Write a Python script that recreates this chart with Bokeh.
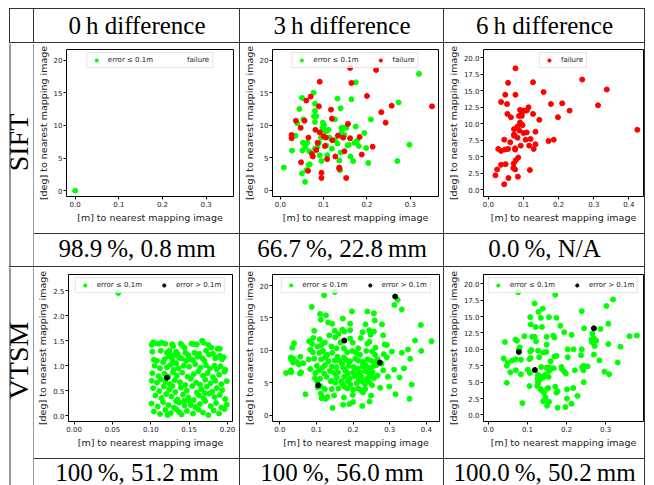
import math
from bokeh.plotting import figure
from bokeh.layouts import row, column
from bokeh.models import Div, Spacer, Range1d, FixedTicker, PrintfTickFormatter, Span
from bokeh.embed import file_html
from bokeh.resources import INLINE
from bokeh.core.properties import value

# ---------------- table texts ----------------
col_titles = ["0\u2009h difference", "3\u2009h difference", "6\u2009h difference"]
row_labels = ["SIFT", "VTSM"]
sift_results = ["98.9\u2009%, 0.8\u2009mm", "66.7\u2009%, 22.8\u2009mm", "0.0\u2009%, N/A"]
vtsm_results = ["100\u2009%, 51.2\u2009mm", "100\u2009%, 56.0\u2009mm", "100.0\u2009%, 50.2\u2009mm"]
legend_ok = "error \u2264 0.1m"
legend_bad = "error > 0.1m"
legend_fail = "failure"
x_label = "[m] to nearest mapping image"
y_label = "[deg] to nearest mapping image"

# ---------------- tick values ----------------
x_ticks_03 = [0.0, 0.1, 0.2, 0.3]
x_ticks_04 = [0.0, 0.1, 0.2, 0.3, 0.4]
x_ticks_020 = [0.0, 0.05, 0.10, 0.15, 0.20]
y_ticks_20 = [0, 5, 10, 15, 20]
y_ticks_20h = [0.0, 2.5, 5.0, 7.5, 10.0, 12.5, 15.0, 17.5, 20.0]
y_ticks_25 = [0.0, 0.5, 1.0, 1.5, 2.0, 2.5]

# ---------------- data (x [m], y [deg]) ----------------
sift_0h_ok = [(0.0, 0.0)]
sift_0h_fail = []

sift_3h_ok = [
    (0.008, 3.5), (0.027, 6.1), (0.035, 8.4), (0.039, 10.3), (0.044, 12.5), (0.050, 14.2),
    (0.053, 10.9), (0.051, 6.1), (0.052, 7.3), (0.050, 2.6), (0.057, 7.1), (0.058, 6.7),
    (0.060, 3.1), (0.062, 7.3), (0.065, 3.9), (0.068, 4.0), (0.057, 1.3), (0.067, 6.0),
    (0.077, 15.0), (0.080, 13.3), (0.080, 12.2), (0.078, 11.4), (0.083, 11.4), (0.080, 10.5),
    (0.080, 6.4), (0.086, 6.7), (0.089, 7.3), (0.091, 5.4), (0.095, 4.5), (0.094, 8.1),
    (0.098, 10.4), (0.101, 10.0), (0.097, 9.6), (0.102, 9.2), (0.106, 9.1), (0.111, 9.3),
    (0.113, 8.1), (0.106, 6.9), (0.108, 5.4), (0.119, 6.4), (0.126, 10.9), (0.132, 14.1),
    (0.139, 12.6), (0.126, 7.7), (0.136, 8.5), (0.141, 9.6), (0.146, 9.6), (0.152, 9.6),
    (0.132, 7.2), (0.139, 5.8), (0.136, 4.6), (0.138, 3.1), (0.142, 9.0), (0.148, 8.5),
    (0.155, 6.9), (0.158, 7.0), (0.164, 14.0), (0.174, 16.6), (0.174, 9.8), (0.162, 5.2),
    (0.168, 4.5), (0.171, 7.3), (0.177, 7.6), (0.181, 6.8), (0.194, 8.8), (0.198, 6.5),
    (0.203, 4.2), (0.209, 10.9), (0.273, 13.5), (0.270, 4.5), (0.298, 7.0), (0.320, 17.9),
]
sift_3h_fail = [
    (0.161, 18.8), (0.221, 18.5), (0.091, 16.7), (0.164, 16.5), (0.200, 14.5), (0.060, 13.8),
    (0.070, 14.4), (0.089, 12.9), (0.117, 12.4), (0.257, 13.0), (0.350, 12.9), (0.233, 12.0),
    (0.036, 10.7), (0.047, 9.6), (0.056, 10.7), (0.119, 11.0), (0.156, 10.2), (0.243, 10.4),
    (0.026, 8.5), (0.026, 8.0), (0.081, 9.3), (0.091, 8.9), (0.105, 8.1), (0.100, 8.3),
    (0.086, 7.3), (0.065, 8.1), (0.133, 8.4), (0.161, 8.0), (0.183, 8.2), (0.145, 8.1),
    (0.103, 6.8), (0.120, 7.7), (0.213, 6.7), (0.148, 6.0), (0.083, 6.2), (0.073, 5.6),
    (0.075, 5.2), (0.108, 4.8), (0.127, 5.2), (0.188, 5.5), (0.048, 4.3), (0.064, 3.0),
    (0.136, 3.5), (0.136, 3.3), (0.095, 2.7), (0.095, 1.9), (0.152, 1.9),
]

sift_6h_fail = [
    (0.077, 18.4), (0.056, 16.2), (0.127, 16.3), (0.267, 16.7), (0.337, 15.2), (0.157, 14.8),
    (0.048, 14.4), (0.077, 14.4), (0.036, 13.3), (0.053, 13.0), (0.178, 13.0), (0.210, 13.1),
    (0.312, 12.8), (0.231, 12.0), (0.114, 12.5), (0.109, 12.0), (0.100, 12.0), (0.090, 12.1),
    (0.095, 11.6), (0.054, 11.5), (0.127, 11.5), (0.064, 11.0), (0.087, 11.2), (0.095, 11.2),
    (0.198, 11.0), (0.145, 10.6), (0.090, 10.2), (0.094, 9.9), (0.083, 9.6), (0.097, 9.8),
    (0.073, 9.2), (0.073, 8.4), (0.073, 8.2), (0.088, 9.0), (0.100, 8.6), (0.109, 8.7),
    (0.134, 8.8), (0.106, 7.6), (0.083, 7.9), (0.045, 7.6), (0.120, 7.7), (0.171, 7.4),
    (0.186, 7.6), (0.424, 9.1), (0.062, 7.2), (0.092, 6.7), (0.116, 6.7), (0.134, 6.9),
    (0.129, 6.2), (0.028, 6.2), (0.036, 5.9), (0.047, 6.1), (0.056, 6.2), (0.076, 6.3),
    (0.076, 6.1), (0.085, 4.9), (0.078, 4.5), (0.072, 4.0), (0.049, 3.9), (0.036, 3.8),
    (0.071, 3.3), (0.076, 3.1), (0.118, 3.0), (0.025, 3.1), (0.020, 2.2), (0.057, 1.8),
    (0.084, 2.0), (0.045, 0.85),
]

vtsm_0h_ok = [
    (0.0575, 2.46),
    (0.101, 1.42), (0.103, 1.47), (0.106, 1.45), (0.110, 1.44), (0.114, 1.46), (0.119, 1.44),
    (0.128, 1.43), (0.129, 1.39), (0.139, 1.44), (0.141, 1.40), (0.144, 1.36), (0.153, 1.44),
    (0.156, 1.43), (0.160, 1.43), (0.167, 1.50), (0.169, 1.46), (0.179, 1.36), (0.187, 1.34),
    (0.190, 1.34), (0.175, 1.42),
    (0.102, 1.28), (0.113, 1.30), (0.121, 1.26), (0.126, 1.22), (0.131, 1.21), (0.135, 1.24),
    (0.137, 1.16), (0.145, 1.26), (0.149, 1.21), (0.157, 1.26), (0.163, 1.24), (0.172, 1.30),
    (0.176, 1.22), (0.181, 1.24), (0.190, 1.20), (0.195, 1.17), (0.124, 1.30), (0.133, 1.28),
    (0.104, 1.12), (0.108, 1.10), (0.118, 1.13), (0.123, 1.19), (0.128, 1.12), (0.140, 1.15),
    (0.146, 1.10), (0.152, 1.13), (0.155, 1.11), (0.161, 1.18), (0.167, 1.15), (0.170, 1.10),
    (0.184, 1.15), (0.188, 1.18), (0.193, 1.13), (0.116, 1.07), (0.133, 1.05),
    (0.105, 1.00), (0.112, 0.95), (0.121, 0.97), (0.126, 1.02), (0.136, 0.95), (0.143, 1.00),
    (0.150, 0.98), (0.158, 1.03), (0.165, 0.96), (0.172, 1.01), (0.177, 0.94), (0.183, 1.00),
    (0.191, 0.99), (0.197, 0.92), (0.186, 0.93), (0.130, 0.92),
    (0.102, 0.85), (0.110, 0.79), (0.118, 0.84), (0.129, 0.87), (0.134, 0.80), (0.141, 0.86),
    (0.148, 0.78), (0.156, 0.83), (0.162, 0.89), (0.168, 0.80), (0.174, 0.85), (0.181, 0.77),
    (0.189, 0.82), (0.196, 0.88), (0.123, 0.78),
    (0.101, 0.70), (0.108, 0.66), (0.113, 0.73), (0.125, 0.63), (0.131, 0.71), (0.138, 0.67),
    (0.145, 0.61), (0.152, 0.74), (0.159, 0.66), (0.164, 0.62), (0.171, 0.72), (0.178, 0.65),
    (0.184, 0.70), (0.192, 0.63), (0.199, 0.69), (0.119, 0.68),
    (0.103, 0.55), (0.111, 0.49), (0.117, 0.58), (0.124, 0.52), (0.132, 0.47), (0.139, 0.56),
    (0.147, 0.50), (0.154, 0.59), (0.160, 0.46), (0.166, 0.53), (0.173, 0.58), (0.180, 0.48),
    (0.186, 0.55), (0.193, 0.51), (0.128, 0.59), (0.170, 0.45),
    (0.106, 0.40), (0.114, 0.35), (0.120, 0.43), (0.127, 0.38), (0.135, 0.32), (0.142, 0.42),
    (0.149, 0.36), (0.156, 0.31), (0.163, 0.40), (0.169, 0.34), (0.176, 0.44), (0.183, 0.37),
    (0.190, 0.41), (0.197, 0.33), (0.144, 0.30),
    (0.101, 0.24), (0.109, 0.18), (0.116, 0.27), (0.123, 0.21), (0.130, 0.16), (0.137, 0.26),
    (0.144, 0.20), (0.151, 0.28), (0.158, 0.17), (0.164, 0.23), (0.171, 0.29), (0.178, 0.19),
    (0.185, 0.25), (0.192, 0.16), (0.199, 0.22), (0.133, 0.29), (0.152, 0.21),
    (0.104, 0.08), (0.112, 0.03), (0.119, 0.11), (0.126, 0.05), (0.133, 0.13), (0.140, 0.02),
    (0.147, 0.09), (0.155, 0.04), (0.162, 0.12), (0.168, 0.06), (0.175, 0.01), (0.182, 0.10),
    (0.189, 0.04), (0.196, 0.13), (0.122, 0.01), (0.137, 0.07),
]
vtsm_0h_bad = [(0.121, 0.76)]

vtsm_3h_ok = [
    (0.150, 19.0), (0.121, 18.5), (0.087, 16.7), (0.197, 16.0), (0.239, 16.0), (0.257, 15.7),
    (0.313, 17.0), (0.322, 17.8), (0.333, 16.3), (0.110, 15.6), (0.126, 15.4), (0.112, 14.7),
    (0.172, 14.9), (0.132, 14.3), (0.143, 14.1), (0.192, 14.1), (0.234, 14.0), (0.259, 14.6),
    (0.279, 14.0), (0.385, 13.9), (0.094, 13.0), (0.150, 13.0), (0.171, 13.2), (0.176, 12.9),
    (0.192, 13.1), (0.226, 12.8), (0.244, 13.1), (0.257, 12.9), (0.091, 11.9), (0.109, 11.7),
    (0.135, 12.3), (0.151, 12.0), (0.160, 12.5), (0.192, 11.8), (0.221, 11.9), (0.248, 12.4),
    (0.282, 12.3), (0.369, 11.5), (0.414, 11.4), (0.039, 11.1), (0.080, 11.4), (0.088, 11.0),
    (0.114, 10.8), (0.123, 11.2), (0.166, 11.2), (0.199, 11.2), (0.239, 11.0), (0.245, 11.3),
    (0.286, 10.9), (0.292, 10.8), (0.034, 10.4), (0.103, 10.6), (0.141, 10.6), (0.155, 10.3),
    (0.175, 10.3), (0.214, 10.3), (0.261, 10.4), (0.306, 9.8), (0.350, 10.1), (0.386, 9.9),
    (0.030, 8.9), (0.031, 8.6), (0.037, 8.7), (0.056, 9.0), (0.083, 10.1), (0.090, 9.7),
    (0.108, 9.6), (0.118, 9.9), (0.130, 9.3), (0.143, 9.6), (0.157, 9.0), (0.175, 8.9),
    (0.184, 9.7), (0.198, 9.9), (0.208, 9.6), (0.219, 9.3), (0.236, 9.9), (0.252, 9.8),
    (0.260, 9.3), (0.284, 9.4), (0.292, 8.9), (0.333, 9.6), (0.356, 8.7),
    (0.036, 8.1), (0.046, 8.2), (0.064, 8.0), (0.079, 8.6), (0.094, 8.7), (0.113, 8.6),
    (0.124, 8.9), (0.133, 8.3), (0.150, 8.4), (0.163, 8.4), (0.170, 7.9), (0.181, 8.5),
    (0.192, 8.3), (0.206, 8.7), (0.215, 8.4), (0.226, 8.2), (0.239, 8.6), (0.249, 8.4),
    (0.258, 8.2), (0.267, 8.6), (0.278, 7.9),
    (0.052, 7.8), (0.083, 7.1), (0.101, 7.6), (0.116, 7.3), (0.123, 7.7), (0.142, 7.5),
    (0.154, 7.4), (0.173, 7.3), (0.188, 7.6), (0.201, 7.4), (0.212, 7.2), (0.226, 7.5),
    (0.234, 7.7), (0.244, 7.3), (0.254, 7.5), (0.264, 7.7), (0.339, 7.2),
    (0.030, 6.9), (0.031, 6.6), (0.055, 6.4), (0.058, 6.6), (0.097, 6.5), (0.107, 6.9),
    (0.121, 6.4), (0.137, 6.8), (0.149, 6.5), (0.159, 6.6), (0.179, 6.8), (0.186, 6.4),
    (0.200, 6.6), (0.209, 6.3), (0.219, 6.6), (0.233, 6.8), (0.243, 6.4), (0.253, 6.6),
    (0.282, 6.9), (0.312, 7.0), (0.017, 6.5),
    (0.096, 5.7), (0.110, 5.6), (0.128, 5.9), (0.141, 5.3), (0.155, 5.8), (0.168, 5.2),
    (0.176, 5.9), (0.191, 5.6), (0.204, 6.0), (0.216, 5.4), (0.222, 5.9), (0.237, 5.6),
    (0.246, 6.0), (0.257, 5.7), (0.267, 6.1), (0.295, 5.9), (0.327, 5.8),
    (0.102, 5.2), (0.139, 5.2), (0.152, 5.0), (0.171, 4.8), (0.186, 5.2), (0.193, 4.7),
    (0.210, 4.9), (0.225, 5.2), (0.232, 4.8), (0.244, 5.1), (0.252, 4.6), (0.360, 4.7),
    (0.103, 4.3), (0.112, 4.4), (0.123, 4.0), (0.142, 4.0), (0.160, 4.1), (0.176, 4.4),
    (0.184, 4.1), (0.200, 3.9), (0.214, 4.1), (0.222, 3.8), (0.233, 4.0), (0.274, 4.2),
    (0.299, 4.4),
    (0.070, 3.2), (0.112, 3.3), (0.115, 2.9), (0.130, 2.8), (0.148, 3.0), (0.199, 3.1),
    (0.227, 3.5), (0.249, 3.0), (0.316, 3.2), (0.114, 2.6), (0.125, 2.5), (0.175, 2.7),
    (0.245, 2.1), (0.354, 2.5), (0.173, 1.6), (0.190, 1.7), (0.200, 2.0), (0.225, 1.4),
    (0.144, 1.1),
]
vtsm_3h_bad = [(0.105, 4.6), (0.176, 11.5), (0.273, 8.1), (0.315, 18.3)]

vtsm_6h_ok = [
    (0.076, 18.7), (0.171, 18.3), (0.118, 17.0), (0.139, 16.2), (0.128, 15.7), (0.239, 15.8),
    (0.302, 16.6), (0.319, 17.6), (0.107, 14.9), (0.134, 14.8), (0.155, 14.9), (0.174, 14.8),
    (0.184, 13.6), (0.307, 13.9), (0.108, 13.8), (0.121, 13.4), (0.137, 13.4), (0.245, 13.2),
    (0.287, 13.1), (0.194, 12.6), (0.266, 12.4), (0.092, 12.0), (0.112, 11.9), (0.118, 11.9),
    (0.149, 11.9), (0.166, 12.1), (0.169, 11.8), (0.213, 12.2), (0.069, 11.5), (0.073, 11.3),
    (0.122, 11.2), (0.149, 10.7), (0.042, 11.1), (0.361, 12.0), (0.380, 12.1), (0.270, 11.7),
    (0.276, 11.3), (0.265, 11.1), (0.264, 11.5), (0.307, 10.8), (0.338, 10.4), (0.218, 10.0),
    (0.272, 10.5), (0.107, 9.7), (0.110, 9.9), (0.078, 10.0), (0.080, 10.3), (0.203, 10.0),
    (0.239, 10.0), (0.127, 9.8), (0.148, 9.6), (0.140, 9.5), (0.169, 8.9), (0.174, 9.0),
    (0.203, 8.8), (0.237, 9.1), (0.270, 9.2), (0.039, 8.6), (0.061, 8.3), (0.070, 8.5),
    (0.083, 8.4), (0.105, 8.5), (0.108, 8.7), (0.130, 8.8), (0.159, 8.2), (0.284, 8.3),
    (0.047, 7.5), (0.049, 8.0), (0.070, 6.8), (0.083, 6.2), (0.056, 6.5), (0.047, 4.9),
    (0.101, 6.9), (0.106, 6.4), (0.135, 7.3), (0.149, 7.2), (0.157, 7.2), (0.167, 7.1),
    (0.187, 7.3), (0.188, 7.0), (0.194, 6.6), (0.198, 6.3), (0.221, 6.8), (0.240, 7.3),
    (0.244, 7.5), (0.254, 7.4), (0.243, 6.8), (0.244, 5.0), (0.297, 6.6), (0.309, 6.2),
    (0.331, 8.0), (0.127, 6.1), (0.126, 5.6), (0.133, 5.8), (0.132, 5.4), (0.127, 5.2),
    (0.127, 4.8), (0.140, 5.7), (0.145, 6.1), (0.154, 5.8), (0.155, 6.7), (0.125, 4.4),
    (0.105, 4.4), (0.133, 4.0), (0.135, 3.8), (0.150, 4.0), (0.153, 4.1), (0.171, 4.3),
    (0.177, 3.6), (0.174, 3.4), (0.142, 3.4), (0.146, 2.7), (0.140, 2.1), (0.155, 2.0),
    (0.150, 1.4), (0.177, 1.1), (0.201, 3.9), (0.201, 2.5), (0.197, 1.2), (0.213, 1.7),
    (0.217, 4.1), (0.228, 2.9), (0.087, 1.8),
]
vtsm_6h_bad = [(0.078, 9.6), (0.119, 6.85), (0.270, 13.2)]

# ---------------- styling ----------------
LINE = "#333333"
GREEN = "#00ff00"
RED = "#ff0000"
BLACK = "#000000"
SERIF = "Liberation Serif"
SANS = "DejaVu Sans"


def hline(w):
    return Div(width=w, height=1, margin=0, styles={"background-color": LINE})


def vline(h):
    return Div(width=1, height=h, margin=0, styles={"background-color": LINE})


def base_fig(w, h):
    p = figure(width=w, height=h, x_range=Range1d(0, w), y_range=Range1d(0, h),
               x_axis_type=None, y_axis_type=None, min_border=0,
               toolbar_location=None, tools="", output_backend="svg")
    p.outline_line_color = None
    p.background_fill_color = "white"
    p.border_fill_color = "white"
    return p


def text_cell(w, h, txt, y, size="25px"):
    p = base_fig(w, h)
    p.text(x=[w / 2], y=[y], text=[txt],
           text_font=value(SERIF), text_font_size=size,
           text_align="center", text_baseline="middle", text_color="black")
    return p


def label_cell(h, txt, y):
    # spans from the page's left edge to the second vertical rule (inclusive)
    w = 34
    p = base_fig(w, h)
    p.add_layout(Span(location=9.5, dimension="height", line_color=LINE, line_width=1))
    p.add_layout(Span(location=33.5, dimension="height", line_color=LINE, line_width=1))
    p.text(x=[18.4], y=[y], text=[txt], angle=math.pi / 2,
           text_font=value(SERIF), text_font_size="28px",
           text_align="center", text_baseline="middle", text_color="black")
    return p


def scatter_cell(w, h, xr, yr, borders, xticks, xfmt, yticks, yfmt, series):
    bl, br, bt, bb = borders
    p = figure(width=w, height=h, x_range=Range1d(*xr), y_range=Range1d(*yr),
               min_border_left=bl, min_border_right=br, min_border_top=bt, min_border_bottom=bb,
               toolbar_location=None, tools="", output_backend="svg")
    p.grid.visible = False
    p.outline_line_color = "black"
    p.outline_line_width = 1
    p.outline_line_alpha = 1.0
    p.background_fill_color = "white"
    p.border_fill_color = "white"
    for pts, color, label in series:
        xs = [pt[0] for pt in pts]
        ys = [pt[1] for pt in pts]
        p.scatter(xs, ys, size=5, fill_color=color, line_color=color, legend_label=label)
    p.xaxis.ticker = FixedTicker(ticks=xticks, minor_ticks=[])
    p.yaxis.ticker = FixedTicker(ticks=yticks, minor_ticks=[])
    p.xaxis.formatter = PrintfTickFormatter(format=xfmt)
    p.yaxis.formatter = PrintfTickFormatter(format=yfmt)
    p.xaxis.axis_label = x_label
    p.yaxis.axis_label = y_label
    for ax in (p.xaxis[0], p.yaxis[0]):
        ax.axis_line_color = None
        ax.major_tick_line_color = "black"
        ax.major_tick_out = 3
        ax.major_tick_in = 0
        ax.minor_tick_line_color = None
        ax.major_label_text_font = SANS
        ax.major_label_text_font_size = "7px"
        ax.major_label_text_color = "#222222"
        ax.major_label_standoff = 1
        ax.axis_label_text_font = SANS
        ax.axis_label_text_font_size = "9.5px"
        ax.axis_label_text_font_style = "normal"
        ax.axis_label_text_color = "#222222"
        ax.axis_label_standoff = 2
    lg = p.legend[0]
    lg.location = "top_center"
    lg.orientation = "horizontal"
    lg.label_text_font = SANS
    lg.label_text_font_size = "7px"
    lg.label_text_color = "#222222"
    lg.glyph_width = 12
    lg.glyph_height = 8
    lg.label_height = 8
    lg.label_standoff = 6
    lg.spacing = 16
    lg.padding = 3
    lg.margin = 3
    lg.border_line_color = "#cccccc"
    lg.border_line_width = 1
    lg.background_fill_alpha = 0.8
    return p


# ---------------- cells ----------------
W1, W2, W3, WL = 205, 203, 200, 23
H_HEAD, H_SIFT, H_T1, H_VTSM, H_T2 = 33, 190, 32, 191, 26
LEFT = 9

s1 = scatter_cell(W1, H_SIFT, (-0.0197, 0.3627), (-0.9, 21.64), (30, 6, 6, 37),
                  x_ticks_03, "%.1f", y_ticks_20, "%d",
                  [(sift_0h_ok, GREEN, legend_ok), (sift_0h_fail, RED, legend_fail)])
s2 = scatter_cell(W2, H_SIFT, (-0.018, 0.365), (-0.95, 21.64), (29, 5, 6, 36),
                  x_ticks_03, "%.1f", y_ticks_20, "%d",
                  [(sift_3h_ok, GREEN, legend_ok), (sift_3h_fail, RED, legend_fail)])
s3 = scatter_cell(W3, H_SIFT, (-0.014, 0.4415), (-1.0, 21.25), (38, 1, 6, 36),
                  x_ticks_04, "%.1f", y_ticks_20h, "%.1f",
                  [(sift_6h_fail, RED, legend_fail)])
v1 = scatter_cell(W1, H_VTSM, (-0.0073, 0.2065), (-0.12, 2.83), (33, 7, 6, 37),
                  x_ticks_020, "%.2f", y_ticks_25, "%.1f",
                  [(vtsm_0h_ok, GREEN, legend_ok), (vtsm_0h_bad, BLACK, legend_bad)])
v2 = scatter_cell(W2, H_VTSM, (-0.02, 0.436), (-1.0, 21.7), (29, 4, 7, 37),
                  x_ticks_04, "%.1f", y_ticks_20, "%d",
                  [(vtsm_3h_ok, GREEN, legend_ok), (vtsm_3h_bad, BLACK, legend_bad)])
v3 = scatter_cell(W3, H_VTSM, (-0.0127, 0.397), (-1.0, 21.4), (38, 1, 7, 37),
                  x_ticks_03, "%.1f", y_ticks_20h, "%.1f",
                  [(vtsm_6h_ok, GREEN, legend_ok), (vtsm_6h_bad, BLACK, legend_bad)])

inner_w = W1 + W2 + W3 + 2
total_w = WL + inner_w + 3


def full_hline():
    return row([Spacer(width=LEFT, height=1), hline(total_w)])


head = row([Spacer(width=LEFT, height=H_HEAD), vline(H_HEAD), Spacer(width=WL, height=H_HEAD), vline(H_HEAD),
            text_cell(W1, H_HEAD, col_titles[0], 17.5), vline(H_HEAD),
            text_cell(W2, H_HEAD, col_titles[1], 17.5), vline(H_HEAD),
            text_cell(W3, H_HEAD, col_titles[2], 17.5), vline(H_HEAD)])


def block(label, label_y, plots, texts, hp, ht, text_y):
    bh = hp + 1 + ht
    inner = column([
        row([plots[0], vline(hp), plots[1], vline(hp), plots[2]]),
        hline(inner_w),
        row([text_cell(W1, ht, texts[0], text_y), vline(ht),
             text_cell(W2, ht, texts[1], text_y), vline(ht),
             text_cell(W3, ht, texts[2], text_y)]),
    ])
    return row([label_cell(bh, label, label_y), inner, vline(bh)])


sift_block = block(row_labels[0], 124, [s1, s2, s3], sift_results, H_SIFT, H_T1, 18)
vtsm_block = block(row_labels[1], 125, [v1, v2, v3], vtsm_results, H_VTSM, H_T2, 13.5)

layout = column([Spacer(width=10, height=8), full_hline(), head, full_hline(),
                 sift_block, full_hline(), vtsm_block])

open("out.html", "w").write(file_html(layout, INLINE, title="table"))
